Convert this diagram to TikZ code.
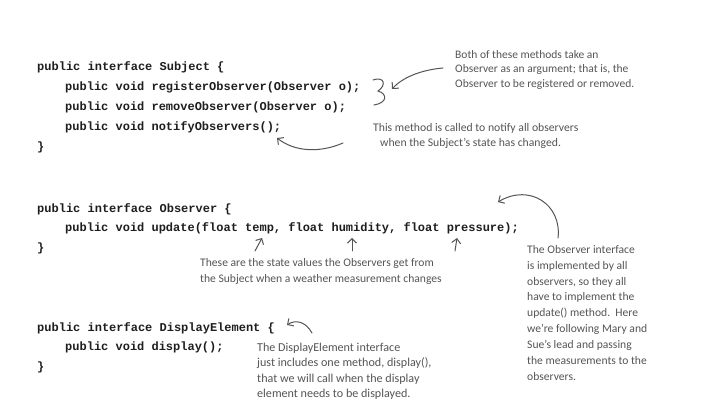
\documentclass[tikz,border=0pt]{standalone}
\usepackage{fontspec}
\setmainfont{Carlito}
\newfontfamily\codefont{Liberation Mono}
\usetikzlibrary{arrows.meta}
\definecolor{ink}{HTML}{1E1E1E}
\definecolor{pen}{HTML}{555555}
\tikzset{
  code/.style={anchor=base west,inner sep=0pt,text=ink,font=\codefont\bfseries\fontsize{12}{14}\selectfont},
  note/.style={anchor=north west,inner sep=0pt,align=left,text=pen},
  hand/.style={draw=pen,line width=1pt,line cap=round,-{Straight Barb[length=4.5pt,width=9pt]}},
  brace/.style={draw=pen,line width=1pt,line cap=round}
}
\begin{document}
\begin{tikzpicture}[x=1pt,y=-1pt]
\useasboundingbox (0,0) rectangle (705,419);
\fill[white] (0,0) rectangle (705,419);
% Subject
\node[code] (s1) at (37,71) {public interface Subject \{};
\node[code] (s2) at (65,91) {public void registerObserver(Observer o);};
\node[code] (s3) at (65,111) {public void removeObserver(Observer o);};
\node[code] (s4) at (65,131) {public void notifyObservers();};
\node[code] (s5) at (37,151) {\}};
% Observer
\node[code] (o1) at (37,213) {public interface Observer \{};
\node[code] (o2) at (65,232) {public void update(float temp, float humidity, float pressure);};
\node[code] (o3) at (37,252) {\}};
% DisplayElement
\node[code] (d1) at (37,332) {public interface DisplayElement \{};
\node[code] (d2) at (65,351) {public void display();};
\node[code] (d3) at (37,371) {\}};
% notes
\node[note,font=\fontsize{11.5}{14.6}\selectfont] (n1) at (455,50) {Both of these methods take an\\Observer as an argument; that is, the\\Observer to be registered or removed.};
\node[note,font=\fontsize{11.7}{15}\selectfont] (n2) at (373,123) {This method is called to notify all observers\\\hspace*{7pt}when the Subject's state has changed.};
\node[note,font=\fontsize{11.6}{16}\selectfont] (n3) at (200,258) {These are the state values the Observers get from\\the Subject when a weather measurement changes};
\node[note,font=\fontsize{11.6}{15.9}\selectfont] (n4) at (527,245) {The Observer interface\\is implemented by all\\observers, so they all\\have to implement the\\update() method.\ \ Here\\we're following Mary and\\Sue's lead and passing\\the measurements to the\\observers.};
\node[note,font=\fontsize{12.1}{15.2}\selectfont] (n5) at (257,343) {The DisplayElement interface\\just includes one method, display(),\\that we will call when the display\\element needs to be displayed.};
% connectors
\coordinate (a1s) at (443,68); \coordinate (a1e) at (392,89);
\draw[hand] (a1s) .. controls (420,70) and (402,78) .. (a1e);
\draw[brace] (373,80) .. controls (384,76) and (387,85) .. (378,91) .. controls (388,94) and (387,103) .. (374,105);
\coordinate (a2s) at (343,143); \coordinate (a2e) at (277,138);
\draw[hand] (a2s) .. controls (320,153) and (295,152) .. (a2e);
\coordinate (a3s) at (255,251); \coordinate (a3e) at (262,238);
\draw[hand] (a3s) -- (a3e);
\coordinate (a4s) at (352,251); \coordinate (a4e) at (352,238);
\draw[hand] (a4s) -- (a4e);
\coordinate (a5s) at (455,251); \coordinate (a5e) at (457,238);
\draw[hand] (a5s) -- (a5e);
\coordinate (a6s) at (558,238); \coordinate (a6e) at (498,202);
\draw[hand] (a6s) .. controls (562,205) and (530,183) .. (a6e);
\coordinate (a7s) at (312,333); \coordinate (a7e) at (287,325);
\draw[hand] (a7s) .. controls (306,322) and (296,319) .. (a7e);
\end{tikzpicture}
\end{document}
